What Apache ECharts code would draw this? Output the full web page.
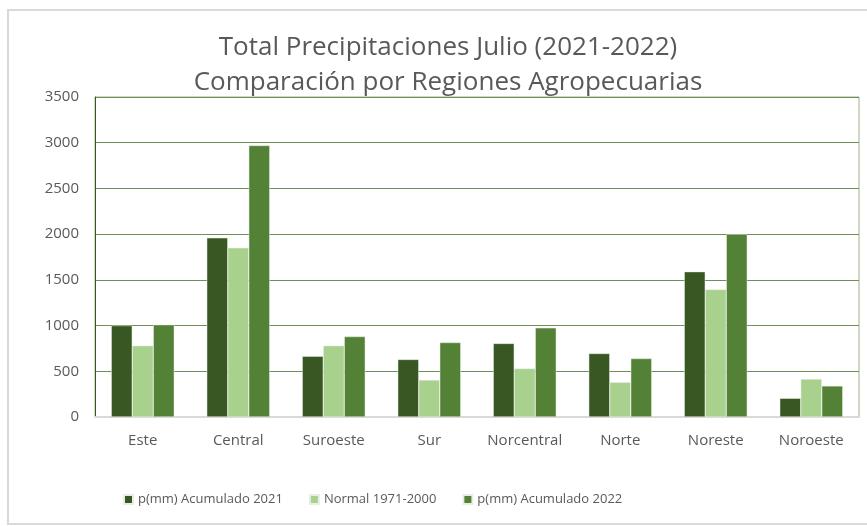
<!DOCTYPE html>
<html>
<head>
<meta charset="utf-8">
<script src="https://cdn.jsdelivr.net/npm/echarts@6/dist/echarts.min.js"></script>
<style>
  html, body { margin: 0; padding: 0; background: #fff; }
  #chart { width: 867px; height: 526px; }
</style>
</head>
<body>
<div id="chart"></div>
<script>
// datos
var regiones = ['Este', 'Central', 'Suroeste', 'Sur', 'Norcentral', 'Norte', 'Noreste', 'Noroeste'];
var acumulado2021 = [1000, 1960, 665, 630, 805, 695, 1590, 205];
var normal = [780, 1850, 780, 405, 530, 380, 1395, 415];
var acumulado2022 = [1010, 2970, 880, 815, 975, 640, 2000, 340];
var nombres = ['p(mm) Acumulado 2021', 'Normal 1971-2000', 'p(mm) Acumulado 2022'];
var colores = ['#385723', '#a9d18e', '#538135'];

var fuente = '"Open Sans", sans-serif';
var chart = echarts.init(document.getElementById('chart'));

chart.setOption({
  color: colores,
  animation: false,
  textStyle: { fontFamily: fuente },
  title: {
    text: 'Total Precipitaciones Julio (2021-2022)\nComparación por Regiones Agropecuarias',
    left: 443,
    textAlign: 'center',
    top: 25,
    textStyle: { fontSize: 26, fontWeight: 'normal', color: '#595959', lineHeight: 35, fontFamily: fuente }
  },
  graphic: [{
    type: 'rect',
    shape: { x: 8, y: 10, width: 880, height: 514 },
    style: { fill: 'none', stroke: '#d9d9d9', lineWidth: 2 },
    silent: true
  }],
  legend: {
    bottom: 15,
    left: 118,
    itemWidth: 9,
    itemHeight: 9,
    itemGap: 26,
    icon: 'rect',
    textStyle: { fontSize: 13, color: '#595959' },
    data: nombres
  },
  grid: {
    left: 95, right: 8, top: 97, bottom: 109,
    show: true, borderColor: '#9bb08a', borderWidth: 1
  },
  xAxis: {
    type: 'category',
    data: regiones,
    axisLine: { lineStyle: { color: '#d9d9d9', width: 2 } },
    axisTick: { show: false },
    axisLabel: { fontSize: 15, color: '#595959', margin: 16, interval: 0 }
  },
  yAxis: {
    type: 'value',
    min: 0, max: 3500, interval: 500,
    axisLine: { show: true, lineStyle: { color: '#385723' } },
    axisTick: { show: false },
    axisLabel: { fontSize: 15, color: '#595959', margin: 16, formatter: function (v) { return String(v); } },
    splitLine: { lineStyle: { color: '#6f8f58' } }
  },
  series: [
    { name: nombres[0], type: 'bar', data: acumulado2021, barGap: '0%', barCategoryGap: '34%',
      itemStyle: { borderColor: '#e8eee2', borderWidth: 0.5 } },
    { name: nombres[1], type: 'bar', data: normal,
      itemStyle: { borderColor: '#e8eee2', borderWidth: 0.5 } },
    { name: nombres[2], type: 'bar', data: acumulado2022,
      itemStyle: { borderColor: '#e8eee2', borderWidth: 0.5 } }
  ]
});
</script>
</body>
</html>
